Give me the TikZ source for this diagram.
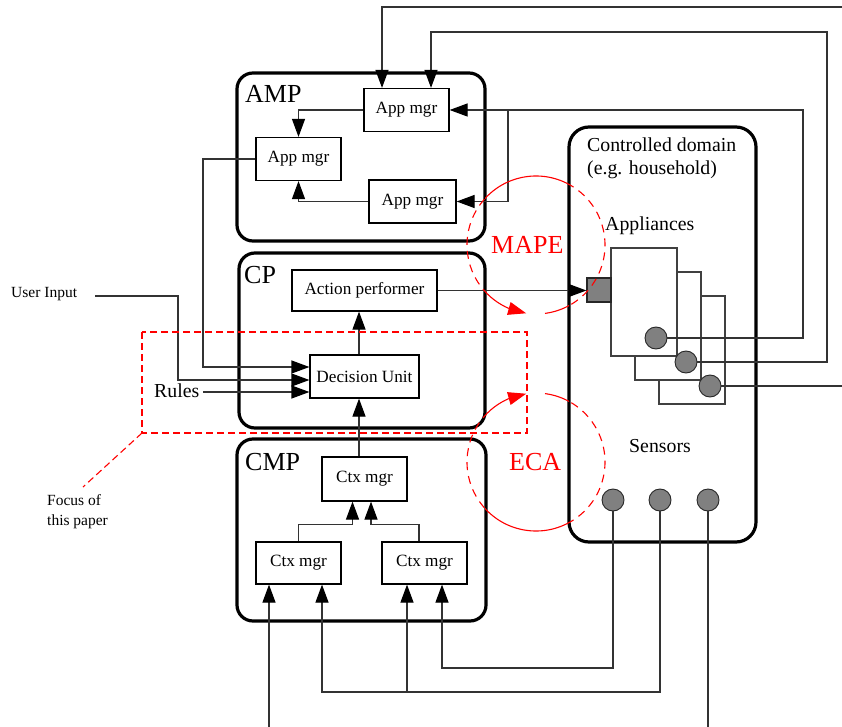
\documentclass[tikz,border=0pt]{standalone}
\usepackage{fontspec}
\setmainfont{Liberation Serif}
\usetikzlibrary{arrows.meta,calc,bending}

\begin{document}
\begin{tikzpicture}[x=1pt,y=-1pt,
  panel/.style={draw=black, line width=3.2pt, rounded corners=16pt},
  mgr/.style={draw=black, line width=1.2pt, fill=white, inner sep=0pt,
    font=\fontsize{17.2}{20}\selectfont, minimum width=85pt, minimum height=43pt},
  wire/.style={draw=black!80, line width=1.2pt},
  arr/.style={wire, -{Triangle[length=18pt,width=13pt,color=black]}},
  applbox/.style={draw=black!75, line width=1.2pt, fill=white},
  dot/.style={circle, draw=black!85, line width=0.9pt, fill=black!50,
    minimum size=22pt, inner sep=0pt},
  bigtxt/.style={font=\fontsize{26}{30}\selectfont, inner sep=0pt, anchor=base west},
  midtxt/.style={font=\fontsize{19.8}{23}\selectfont, inner sep=0pt, anchor=base west},
  smalltxt/.style={font=\fontsize{15.5}{18}\selectfont, inner sep=0pt, anchor=base west},
  focus/.style={draw=red, line width=1.1pt, dash pattern=on 7pt off 4pt},
  loopdash/.style={draw=red, line width=1.1pt, dash pattern=on 8pt off 6pt},
  loopsolid/.style={draw=red, line width=1.1pt, -{Triangle[length=18pt,width=13pt]}},
]
\fill[white] (0,0) rectangle (842,727);
\useasboundingbox (0,0) rectangle (842,727);

% ---- panels ----
\draw[panel] (237,73) rectangle (485,241);
\draw[panel] (239,253) rectangle (485,428);
\draw[panel] (237,439) rectangle (486,621);
\draw[panel, rounded corners=20pt] (569,127) rectangle (756,542);

\node[bigtxt] (lamp) at (245,103) {AMP};
\node[bigtxt] (lcp) at (244,283) {CP};
\node[bigtxt] (lcmp) at (245,470) {CMP};

\node[midtxt] (cd1) at (587,152) {Controlled domain};
\node[midtxt] (cd2) at (587,175) {(e.g. household)};
\node[midtxt] (lapp) at (605,230) {Appliances};
\node[midtxt] (lsens) at (629,452) {Sensors};

% ---- managers ----
\node[mgr] (am1) at (406.5,110) {App mgr};
\node[mgr] (am2) at (298.5,159) {App mgr};
\node[mgr, minimum width=87pt] (am3) at (412.5,201.5) {App mgr};

\node[mgr, minimum width=145pt, minimum height=41pt] (ap) at (364.5,290.5) {Action performer};
\node[mgr, minimum width=109pt] (du) at (364.5,376.5) {Decision Unit};

\node[mgr, minimum height=44pt] (ct) at (364.5,479) {Ctx mgr};
\node[mgr, minimum height=42pt] (cl) at (298.5,563) {Ctx mgr};
\node[mgr, minimum height=42pt] (cr) at (424.5,563) {Ctx mgr};

% ---- appliances (back to front) ----
\draw[applbox] (659,296) rectangle (725,404);
\draw[applbox] (635,272) rectangle (701,380);
\draw[applbox] (611,248) rectangle (677,356);
\node[draw=black!85, line width=1.1pt, fill=black!50, minimum size=24pt, inner sep=0pt] (act) at (599,290) {};

% ---- device dots ----
\node[dot] (c1) at (656,338) {};
\node[dot] (c2) at (686,362) {};
\node[dot] (c3) at (710,386) {};
\node[dot] (s1) at (613,500) {};
\node[dot] (s2) at (660,500) {};
\node[dot] (s3) at (708,500) {};

% ---- outer labels ----
\node[smalltxt] (ui) at (11,297) {User Input};
\node[midtxt] (rules) at (154,397) {Rules};
\node[smalltxt] (fo1) at (47,505) {Focus of};
\node[smalltxt] (fo2) at (47,525) {this paper};

% ---- routing points ----
\coordinate (k1) at (803,110);
\coordinate (j1) at (508,110);
\coordinate (k2) at (827,32);
\coordinate (e0) at (842,7);
\coordinate (e3) at (842,386);
\coordinate (j2) at (203,367);
\coordinate (uis) at (95,296);
\coordinate (j3) at (178,380);
\coordinate (j4) at (203,392);
\coordinate (j5) at (442,668);
\coordinate (j6) at (322,692);
\coordinate (j7) at (407,692);
\coordinate (e4) at (708,727);
\coordinate (e5) at (269,727);

% ---- appliance feedback into the AMP ----
\draw[arr] (c1.east) -| (k1) -- (am1.east);
\draw[arr] (j1) |- (am3.east);
\draw[arr] (c2.east) -| (k2) -| ($(am1.north)+(24.5,0)$);
\draw[wire] (c3.east) -- (e3);
\draw[arr] (e0) -| ($(am1.north)+(-24.5,0)$);

\draw[arr] (am1.west) -| (am2.north);
\draw[arr] (am3.west) -| (am2.south);

% ---- decision unit inputs ----
\draw[arr] (am2.west) -| (j2) -- (j2 -| du.west);
\draw[arr] (uis) -| (j3) -- (j3 -| du.west);
\draw[arr] (j4) -- (j4 -| du.west);

\draw[arr] ($(du.north)+(-5.5,0)$) -- ($(ap.south)+(-5.5,0)$);
\draw[arr] ($(ct.north)+(-5.5,0)$) -- ($(du.south)+(-5.5,0)$);
\draw[arr] (ap.east) -- (ap.east -| act.west);

% ---- context managers ----
\draw[arr] (cl.north) |- ($(ct.south)+(-12,23)$) -- ($(ct.south)+(-12,0)$);
\draw[arr] ($(cr.north)+(-5.5,0)$) |- ($(ct.south)+(6.5,23)$) -- ($(ct.south)+(6.5,0)$);

% ---- sensor feeds ----
\draw[arr] (s1.south) |- (j5) -- ($(cr.south)+(17.5,0)$);
\draw[arr] (s2.south) |- (j6) -- ($(cl.south)+(23.5,0)$);
\draw[arr] (j7) -- ($(cr.south)+(-17.5,0)$);
\draw[wire] (s3.south) -- (e4);
\draw[arr] (e5) -- ($(cl.south)+(-29.5,0)$);

% ---- focus area ----
\draw[focus] (142,332) rectangle (527,433);
\coordinate (fcorner) at (142,433);
\coordinate (ftip) at (83,487);
\draw[focus] (fcorner) -- (ftip);

% ---- MAPE and ECA loops: solid between the panels, dashed over them ----
\coordinate (mapeS) at (545.0,313.4);
\coordinate (ecaS) at (545.0,393.6);
\node[bigtxt, text=red] (lmape) at (491,253) {MAPE};
\node[bigtxt, text=red] (leca) at (509,470) {ECA};
\begin{scope}
  \clip (485,0) rectangle (569,727);
  \draw[loopsolid] (mapeS) arc[start angle=82.5, end angle=-261.8, radius=69];
  \draw[loopsolid] (ecaS) arc[start angle=-82.5, end angle=261.8, radius=69];
\end{scope}
\begin{scope}
  \clip (0,0) rectangle (485,727) (569,0) rectangle (842,727);
  \draw[loopdash] (mapeS) arc[start angle=82.5, end angle=-261.8, radius=69];
  \draw[loopdash] (ecaS) arc[start angle=-82.5, end angle=261.8, radius=69];
\end{scope}
\end{tikzpicture}
\end{document}
